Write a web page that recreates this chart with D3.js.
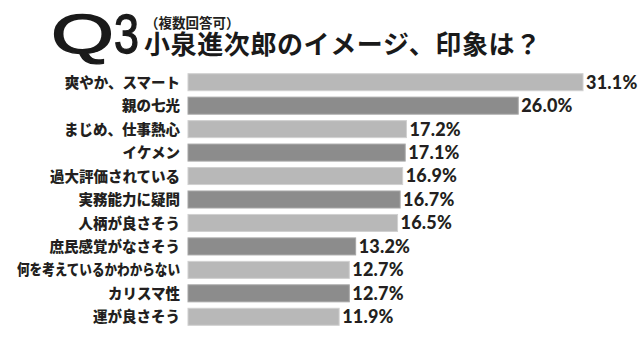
<!DOCTYPE html>
<html><head><meta charset="utf-8">
<script src="https://cdn.jsdelivr.net/npm/d3@7"></script>
<style>
html,body{margin:0;padding:0;background:#fff;}
svg{display:block;}
</style></head>
<body>
<script>
const categories = ["爽やか、スマート","親の七光","まじめ、仕事熱心","イケメン","過大評価されている","実務能力に疑問","人柄が良さそう","庶民感覚がなさそう","何を考えているかわからない","カリスマ性","運が良さそう"];
const values = [31.1, 26.0, 17.2, 17.1, 16.9, 16.7, 16.5, 13.2, 12.7, 12.7, 11.9];
const valueLabels = ["31.1%","26.0%","17.2%","17.1%","16.9%","16.7%","16.5%","13.2%","12.7%","12.7%","11.9%"];
const titleQ = "Q";
const titleNum = "3";
const subtitle = "（複数回答可）";
const title = "小泉進次郎のイメージ、印象は？";

const W = 640, H = 347;
const svg = d3.select("body").append("svg").attr("width", W).attr("height", H);
const jp = "'Noto Sans CJK JP','Noto Sans CJK SC',sans-serif";
const latin = "Lato, 'Liberation Sans', sans-serif";
const ink = "#231f20";

const x = d3.scaleLinear().domain([0, 31.1]).range([188, 583]);
const y = d3.scaleBand().domain(categories).range([73.7, 325.3]).paddingInner(0.275).paddingOuter(0);

// bars
svg.append("g").selectAll("rect").data(categories).join("rect")
  .attr("x", x(0))
  .attr("y", d => y(d))
  .attr("width", (d, i) => x(values[i]) - x(0))
  .attr("height", y.bandwidth())
  .attr("fill", (d, i) => i % 2 === 0 ? "#b8b8b8" : "#8c8c8c")
  .attr("stroke", (d, i) => i % 2 === 0 ? "#d0d0d0" : "#a6a6a6")
  .attr("stroke-width", 1);

// category labels
const labels = svg.append("g").selectAll("text").data(categories).join("text")
  .attr("x", 180)
  .attr("y", d => y(d) + y.bandwidth() / 2 + 5.6)
  .attr("text-anchor", "end")
  .attr("font-family", jp)
  .attr("font-weight", 900)
  .attr("font-size", 14.5)
  .attr("fill", ink)
  .text(d => d);
labels.each(function() {
  const len = this.getComputedTextLength();
  if (len > 163) d3.select(this).attr("textLength", 163).attr("lengthAdjust", "spacingAndGlyphs");
});

// value labels
svg.append("g").selectAll("text").data(categories).join("text")
  .attr("x", (d, i) => x(values[i]) + 3)
  .attr("y", d => y(d) + y.bandwidth() / 2 + 6.4)
  .attr("font-family", latin)
  .attr("font-weight", 900)
  .attr("font-size", 18)
  .attr("letter-spacing", 0.2)
  .attr("fill", ink)
  .text((d, i) => valueLabels[i]);

// title Q3
function fitGlyph(txt, left, width, baseline, size) {
  const t = svg.append("text")
    .attr("font-family", "'Liberation Sans', Arial, sans-serif")
    .attr("font-weight", 400)
    .attr("font-size", size)
    .attr("fill", "#1a1a1a")
    .attr("stroke", "#1a1a1a")
    .attr("stroke-width", 1.3)
    .text(txt);
  const w = t.node().getComputedTextLength();
  const sx = width / w;
  t.attr("transform", `translate(${left},${baseline}) scale(${sx},1)`);
}
fitGlyph(titleQ, 51, 63, 53, 55);
fitGlyph(titleNum, 114, 25, 53, 55);

svg.append("text")
  .attr("x", 145).attr("y", 28)
  .attr("font-family", jp).attr("font-weight", 700).attr("font-size", 13.5)
  .attr("fill", ink)
  .text(subtitle);

svg.append("text")
  .attr("x", 144).attr("y", 53.5)
  .attr("font-family", jp).attr("font-weight", 700).attr("font-size", 26)
  .attr("letter-spacing", 0.6)
  .attr("fill", "#1a1a1a")
  .text(title);
</script>
</body></html>
